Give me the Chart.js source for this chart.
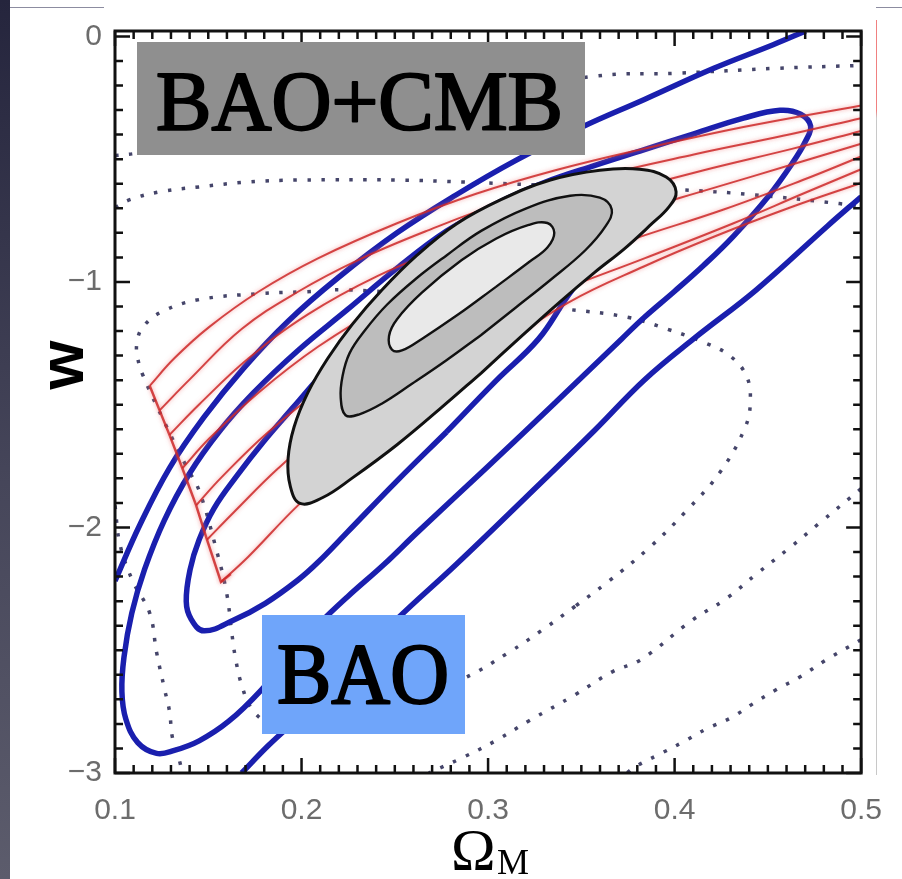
<!DOCTYPE html>
<html>
<head>
<meta charset="utf-8">
<script src="https://cdn.jsdelivr.net/npm/chart.js@4.4.1/dist/chart.umd.min.js"></script>
<style>
  html, body { margin: 0; padding: 0; background: #fff; }
  #wrap { position: relative; width: 902px; height: 879px; overflow: hidden; background: #fff; }
  #c { position: absolute; left: 0; top: 0; }
  .edge { position: absolute; }
</style>
</head>
<body>
<div id="wrap">
  <canvas id="c" width="902" height="879"></canvas>
  <div class="edge" style="left:0;top:0;width:10px;height:879px;background:linear-gradient(#25253d,#46465a 55%,#5c5c6c);"></div>
  <div class="edge" style="left:10px;top:7px;width:94px;height:1px;background:#8c8ca0;"></div>
  <div class="edge" style="left:876px;top:7px;width:26px;height:1px;background:#8c8ca0;"></div>
  <div class="edge" style="left:876px;top:20px;width:1px;height:755px;background:linear-gradient(#f08080 0,#f08080 12%,#c8c8c8 13%,#c8c8c8 100%);"></div>
</div>
<script>
// axis ticks
const omegaTicks = [0.1, 0.2, 0.3, 0.4, 0.5];
const wTicks = [-3, -2, -1, 0];

// BAO+CMB joint contours [Omega_M, w]
const jointOuter = [[0.2963,-1.371],[0.2751,-1.511],[0.2512,-1.663],[0.2273,-1.798],[0.2114,-1.878],[0.1992,-1.902],[0.1939,-1.830],[0.1928,-1.719],[0.1960,-1.591],[0.2034,-1.451],[0.2141,-1.311],[0.2273,-1.172],[0.2432,-1.032],[0.2618,-0.892],[0.2830,-0.764],[0.3069,-0.665],[0.3334,-0.585],[0.3599,-0.545],[0.3812,-0.541],[0.3955,-0.573],[0.4008,-0.633],[0.3971,-0.693],[0.3865,-0.772],[0.3732,-0.864],[0.3573,-0.960],[0.3387,-1.080],[0.3175,-1.224],[0.2963,-1.371]];
const jointMid = [[0.2963,-1.216],[0.2777,-1.319],[0.2592,-1.415],[0.2432,-1.495],[0.2310,-1.539],[0.2236,-1.543],[0.2210,-1.471],[0.2220,-1.383],[0.2257,-1.291],[0.2337,-1.200],[0.2459,-1.092],[0.2618,-0.984],[0.2777,-0.892],[0.2963,-0.792],[0.3202,-0.701],[0.3440,-0.649],[0.3599,-0.657],[0.3663,-0.705],[0.3631,-0.772],[0.3520,-0.872],[0.3334,-0.992],[0.3149,-1.104],[0.2963,-1.216]];
const jointInner = [[0.3042,-1.020],[0.2841,-1.132],[0.2645,-1.232],[0.2538,-1.279],[0.2485,-1.276],[0.2469,-1.220],[0.2512,-1.152],[0.2645,-1.044],[0.2857,-0.912],[0.3042,-0.824],[0.3218,-0.768],[0.3318,-0.760],[0.3355,-0.800],[0.3318,-0.860],[0.3218,-0.920],[0.3042,-1.020]];

// BAO only contours
const baoInner = [[0.2777,-1.611],[0.2512,-1.810],[0.2247,-2.018],[0.2088,-2.142],[0.1981,-2.214],[0.1806,-2.309],[0.1637,-2.377],[0.1477,-2.421],[0.1408,-2.373],[0.1382,-2.301],[0.1403,-2.170],[0.1451,-2.050],[0.1531,-1.922],[0.1653,-1.790],[0.1796,-1.651],[0.1955,-1.511],[0.2114,-1.371],[0.2353,-1.172],[0.2671,-0.960],[0.3042,-0.800],[0.3387,-0.713],[0.3599,-0.713],[0.3653,-0.784],[0.3573,-0.904],[0.3414,-1.072],[0.3271,-1.232],[0.3042,-1.403],[0.2777,-1.611]];
const baoMid = [[0.3361,-1.491],[0.2989,-1.759],[0.2618,-2.022],[0.2443,-2.150],[0.2247,-2.282],[0.2088,-2.397],[0.1928,-2.529],[0.1785,-2.661],[0.1610,-2.789],[0.1451,-2.869],[0.1318,-2.908],[0.1223,-2.920],[0.1122,-2.876],[0.1058,-2.780],[0.1037,-2.669],[0.1048,-2.529],[0.1090,-2.349],[0.1159,-2.170],[0.1265,-1.970],[0.1398,-1.782],[0.1557,-1.611],[0.1743,-1.451],[0.1981,-1.279],[0.2247,-1.112],[0.2512,-0.944],[0.2777,-0.793],[0.3042,-0.681],[0.3308,-0.593],[0.3573,-0.525],[0.3838,-0.461],[0.4103,-0.397],[0.4369,-0.333],[0.4565,-0.301],[0.4676,-0.317],[0.4729,-0.365],[0.4703,-0.425],[0.4634,-0.513],[0.4501,-0.653],[0.4316,-0.813],[0.4156,-0.932],[0.3997,-1.040],[0.3838,-1.144],[0.3716,-1.232],[0.3361,-1.491]];
const baoOuterUpper = [[0.1000,-2.218],[0.1133,-1.990],[0.1292,-1.758],[0.1477,-1.551],[0.1690,-1.351],[0.1928,-1.160],[0.2194,-0.984],[0.2512,-0.800],[0.2830,-0.645],[0.3149,-0.505],[0.3504,-0.369],[0.3838,-0.257],[0.4210,-0.130],[0.4528,-0.034],[0.4703,0.022]];
const baoOuterLower = [[0.1679,-3.000],[0.1822,-2.888],[0.1981,-2.776],[0.2247,-2.577],[0.2512,-2.373],[0.2830,-2.150],[0.3202,-1.878],[0.3573,-1.603],[0.3838,-1.399],[0.4103,-1.231],[0.4438,-1.032],[0.4820,-0.772],[0.5000,-0.653]];

// CMB only contours (dotted)
const cmbInner = [[0.3467,-2.321],[0.3292,-2.417],[0.3111,-2.509],[0.2867,-2.616],[0.2512,-2.728],[0.2194,-2.816],[0.1981,-2.828],[0.1822,-2.796],[0.1732,-2.737],[0.1679,-2.641],[0.1647,-2.537],[0.1626,-2.429],[0.1599,-2.269],[0.1546,-2.098],[0.1451,-1.850],[0.1382,-1.751],[0.1265,-1.571],[0.1149,-1.379],[0.1122,-1.311],[0.1117,-1.251],[0.1149,-1.184],[0.1255,-1.120],[0.1451,-1.072],[0.1769,-1.048],[0.2019,-1.040],[0.2236,-1.032],[0.2777,-1.060],[0.3430,-1.112],[0.3748,-1.144],[0.3960,-1.192],[0.4172,-1.251],[0.4300,-1.303],[0.4385,-1.383],[0.4406,-1.483],[0.4379,-1.591],[0.4247,-1.771],[0.4066,-1.930],[0.3865,-2.082],[0.3642,-2.222],[0.3467,-2.321]];
const cmbMidTop = [[0.1000,-0.697],[0.1080,-0.665],[0.1239,-0.633],[0.1451,-0.613],[0.1716,-0.593],[0.1981,-0.585],[0.2512,-0.585],[0.2867,-0.593],[0.3133,-0.601],[0.3573,-0.613],[0.4034,-0.625],[0.4422,-0.645],[0.4883,-0.681],[0.5000,-0.693]];
const cmbMidLeft = [[0.1000,-1.910],[0.1027,-2.070],[0.1095,-2.218],[0.1186,-2.349],[0.1223,-2.509],[0.1265,-2.657],[0.1292,-2.748],[0.1308,-2.856],[0.1345,-2.948],[0.1361,-3.000]];
const cmbMidRight = [[0.5000,-1.842],[0.4777,-1.982],[0.4618,-2.082],[0.4438,-2.190],[0.4278,-2.289],[0.4088,-2.381],[0.3822,-2.537],[0.3663,-2.589],[0.3467,-2.681],[0.3218,-2.788],[0.3042,-2.868],[0.2867,-2.936],[0.2682,-3.000]];
const cmbOuterTop = [[0.1000,-0.485],[0.1106,-0.477],[0.1981,-0.373],[0.2777,-0.265],[0.3573,-0.162],[0.4013,-0.150],[0.4544,-0.130],[0.5000,-0.118]];
const cmbOuterRight = [[0.5000,-2.457],[0.4809,-2.541],[0.4671,-2.609],[0.4544,-2.661],[0.4422,-2.717],[0.4300,-2.776],[0.4172,-2.820],[0.4040,-2.876],[0.3907,-2.928],[0.3785,-2.976],[0.3743,-3.000]];

// red tracks
const track1 = [[0.1186,-1.423],[0.1318,-1.311],[0.1504,-1.184],[0.1769,-1.040],[0.2088,-0.904],[0.2512,-0.761],[0.2936,-0.641],[0.3361,-0.545],[0.3838,-0.457],[0.4369,-0.369],[0.5000,-0.281]];
const track2 = [[0.1239,-1.523],[0.1398,-1.399],[0.1679,-1.192],[0.1981,-1.040],[0.2300,-0.912],[0.2671,-0.792],[0.3095,-0.673],[0.3573,-0.573],[0.4103,-0.481],[0.4581,-0.405],[0.5000,-0.333]];
const track3 = [[0.1292,-1.623],[0.1451,-1.499],[0.1716,-1.311],[0.2034,-1.132],[0.2406,-0.976],[0.2777,-0.860],[0.3202,-0.745],[0.3679,-0.641],[0.4156,-0.545],[0.4634,-0.457],[0.5000,-0.385]];
const track4 = [[0.1361,-1.759],[0.1504,-1.639],[0.1769,-1.451],[0.2088,-1.264],[0.2459,-1.092],[0.2830,-0.960],[0.3255,-0.840],[0.3732,-0.725],[0.4210,-0.617],[0.4634,-0.521],[0.5000,-0.437]];
const track5 = [[0.1435,-1.910],[0.1568,-1.798],[0.1822,-1.611],[0.2141,-1.419],[0.2512,-1.232],[0.2883,-1.084],[0.3308,-0.952],[0.3785,-0.824],[0.4263,-0.705],[0.4687,-0.585],[0.5000,-0.489]];
const track6 = [[0.1493,-2.050],[0.1637,-1.938],[0.1875,-1.759],[0.2194,-1.551],[0.2565,-1.351],[0.2936,-1.192],[0.3361,-1.044],[0.3838,-0.904],[0.4316,-0.761],[0.4687,-0.641],[0.5000,-0.541]];
const track7 = [[0.1568,-2.222],[0.1716,-2.118],[0.1981,-1.910],[0.2247,-1.731],[0.2618,-1.511],[0.3042,-1.279],[0.3430,-1.084],[0.3838,-0.936],[0.4210,-0.816],[0.4634,-0.693],[0.5000,-0.597]];
const trackEnds = [[0.1186,-1.423],[0.1239,-1.523],[0.1292,-1.623],[0.1361,-1.759],[0.1435,-1.910],[0.1493,-2.050],[0.1568,-2.222],[0.1621,-2.190]];

const pts = arr => arr.map(([x, y]) => ({ x, y }));

function curve(arr, color, width, order, extra) {
  return Object.assign({
    data: pts(arr), showLine: true, borderColor: color, borderWidth: width,
    pointRadius: 0, tension: 0.4, fill: false, order: order
  }, extra || {});
}

const dotted = { borderDash: [3.5, 10.5], borderCapStyle: 'butt' };
const DOT = '#45456a', BLUE = '#1a1fae', RED = 'rgba(205,40,40,0.85)';

const datasets = [
  curve(cmbInner, DOT, 3.5, 6, dotted),
  curve(cmbMidTop, DOT, 3.5, 6, dotted),
  curve(cmbMidLeft, DOT, 3.5, 6, dotted),
  curve(cmbMidRight, DOT, 3.5, 6, dotted),
  curve(cmbOuterTop, DOT, 3.5, 6, dotted),
  curve(cmbOuterRight, DOT, 3.5, 6, dotted),

  curve(baoInner, BLUE, 5.5, 5),
  curve(baoMid, BLUE, 5.5, 5),
  curve(baoOuterUpper, BLUE, 5.5, 5),
  curve(baoOuterLower, BLUE, 5.5, 5),

  curve(track1, RED, 2, 4, { glow: true }),
  curve(track2, RED, 2, 4, { glow: true }),
  curve(track3, RED, 2, 4, { glow: true }),
  curve(track4, RED, 2, 4, { glow: true }),
  curve(track5, RED, 2, 4, { glow: true }),
  curve(track6, RED, 2, 4, { glow: true }),
  curve(track7, RED, 2, 4, { glow: true }),
  curve(trackEnds, RED, 2.5, 4, { glow: true, tension: 0 }),

  curve(jointOuter, '#111', 3, 3, { fill: 'shape', backgroundColor: '#d3d3d3' }),
  curve(jointMid, '#111', 2.4, 2, { fill: 'shape', backgroundColor: '#bdbdbd' }),
  curve(jointInner, '#111', 2.4, 1, { fill: 'shape', backgroundColor: '#e9e9e9' })
];

// text squeezed to a given width, thickened with a thin outline
function fitText(ctx, text, x, base, width) {
  const w = ctx.measureText(text).width;
  ctx.save();
  ctx.translate(x, base);
  ctx.scale(width / w, 1);
  ctx.fillText(text, 0, 0);
  ctx.lineWidth = 2.2;
  ctx.strokeStyle = '#000';
  ctx.lineJoin = 'round';
  ctx.strokeText(text, 0, 0);
  ctx.restore();
}

const decor = {
  id: 'decor',
  beforeDatasetDraw(chart, args) {
    if (chart.data.datasets[args.index].glow) {
      chart.ctx.save();
      chart.ctx.shadowColor = 'rgba(240,120,120,0.8)';
      chart.ctx.shadowBlur = 4;
    }
  },
  afterDatasetDraw(chart, args) {
    if (chart.data.datasets[args.index].glow) chart.ctx.restore();
  },
  afterDatasetsDraw(chart) {
    // frame with inward ticks on all four sides
    const { ctx, chartArea: a, scales: { x, y } } = chart;
    ctx.save();
    ctx.strokeStyle = '#111';
    ctx.lineWidth = 2.5;
    ctx.beginPath();
    for (let k = 10; k <= 50; k++) {
      const px = x.getPixelForValue(k / 100);
      const len = k % 10 === 0 ? 15 : 8;
      ctx.moveTo(px, a.bottom); ctx.lineTo(px, a.bottom - len);
      ctx.moveTo(px, a.top); ctx.lineTo(px, a.top + len);
    }
    for (let k = -30; k <= 0; k++) {
      const py = y.getPixelForValue(k / 10);
      const len = k % 10 === 0 ? 15 : 8;
      ctx.moveTo(a.left, py); ctx.lineTo(a.left + len, py);
      ctx.moveTo(a.right, py); ctx.lineTo(a.right - len, py);
    }
    ctx.stroke();
    ctx.lineWidth = 3;
    ctx.strokeRect(a.left, a.top, a.right - a.left, a.bottom - a.top);
    ctx.restore();
  },
  afterDraw(chart) {
    const ctx = chart.ctx;
    ctx.save();
    // label boxes
    ctx.fillStyle = '#8f8f8f';
    ctx.fillRect(137, 42, 448, 113);
    ctx.fillStyle = '#6fa5fa';
    ctx.fillRect(262, 615, 203, 119);
    ctx.fillStyle = '#000';
    ctx.textAlign = 'left';
    ctx.textBaseline = 'alphabetic';
    ctx.font = '84px "Liberation Serif", serif';
    fitText(ctx, 'BAO+CMB', 156, 130, 407);
    ctx.font = '86px "Liberation Serif", serif';
    fitText(ctx, 'BAO', 277, 703, 172);

    // axis titles
    ctx.font = '60px "Liberation Serif"';
    ctx.fillText('\u03A9', 451, 870);
    ctx.font = '36px "Liberation Serif"';
    ctx.fillText('M', 497, 874);
    ctx.translate(83, 365);
    ctx.rotate(-Math.PI / 2);
    ctx.textAlign = 'center';
    ctx.font = 'bold 63px "Liberation Sans"';
    ctx.fillText('w', 0, 0);
    ctx.restore();
  }
};

const tickFont = { family: 'Liberation Sans', size: 30 };

new Chart(document.getElementById('c'), {
  type: 'scatter',
  data: { datasets: datasets },
  options: {
    responsive: false,
    animation: false,
    events: [],
    layout: { padding: { left: 0, top: 16, right: 33, bottom: 0 } },
    plugins: { legend: { display: false }, tooltip: { enabled: false } },
    scales: {
      x: {
        type: 'linear', min: 0.1, max: 0.5,
        grid: { display: false, drawTicks: false },
        border: { display: false },
        ticks: { color: '#6c6c6c', font: tickFont, padding: 20, maxRotation: 0,
          callback: v => v.toFixed(1) },
        afterBuildTicks: s => { s.ticks = omegaTicks.map(v => ({ value: v })); },
        afterFit: s => { s.height = 106; }
      },
      y: {
        type: 'linear', min: -3, max: 0.022,
        grid: { display: false, drawTicks: false },
        border: { display: false },
        ticks: { color: '#6c6c6c', font: tickFont, padding: 13,
          callback: v => v === 0 ? '0' : '\u2212' + Math.abs(v) },
        afterBuildTicks: s => { s.ticks = wTicks.map(v => ({ value: v })); },
        afterFit: s => { s.width = 115; }
      }
    }
  },
  plugins: [decor]
});
</script>
</body>
</html>
